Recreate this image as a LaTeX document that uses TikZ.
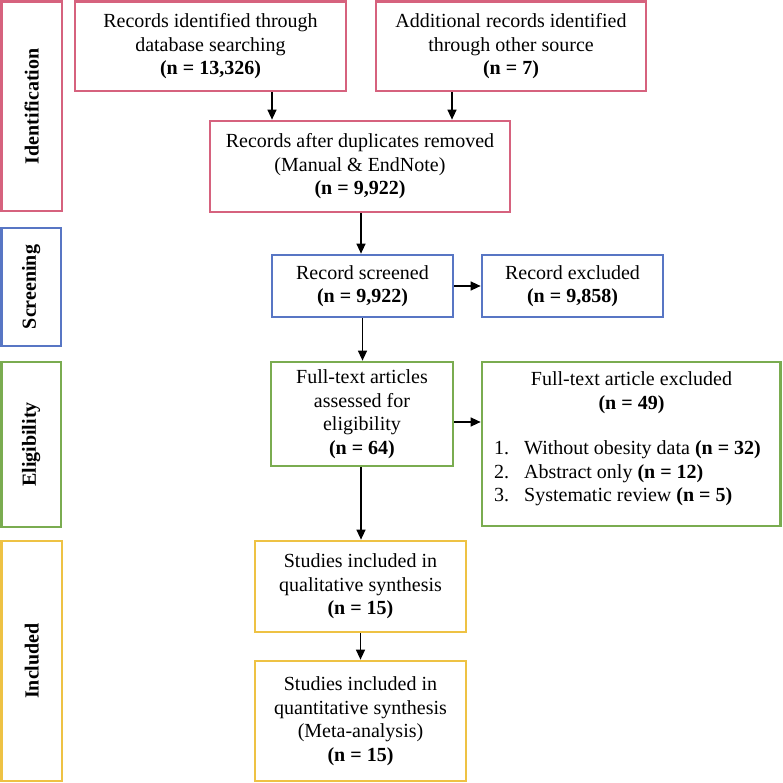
\documentclass[tikz,border=0pt]{standalone}
\usepackage{fontspec}
\setmainfont{Liberation Serif}
\usetikzlibrary{arrows.meta}
\definecolor{cpink}{RGB}{214,98,126}
\definecolor{cblue}{RGB}{88,118,196}
\definecolor{cgreen}{RGB}{122,172,80}
\definecolor{cyel}{RGB}{238,194,68}
\tikzset{
  box/.style={draw, line width=2.7pt, inner sep=0pt, align=center,
    font=\fontsize{20}{23.5}\selectfont},
  stage/.style={box, font=\fontsize{20}{23.5}\selectfont\bfseries},
  txt/.style={inner sep=0pt, align=center, font=\fontsize{20}{23.5}\selectfont},
  arr/.style={line width=1.3pt, -{Triangle[length=10pt,width=9pt]}}
}
\newcommand{\bx}[7]{% name, x1,y1,x2,y2, style, text
  \node[#6, minimum width={(#4-#2)*1pt}, minimum height={(#5-#3)*1pt}]
    (#1) at ({(#2+#4)/2},{(#3+#5)/2}) {#7};}
\begin{document}
\begin{tikzpicture}[x=1pt,y=-1pt]
\useasboundingbox (0,0) rectangle (782,783);
% stage labels
\bx{sid}{1.5}{1.5}{62}{211}{stage, draw=cpink}{}
\node[rotate=90, txt, font=\fontsize{20}{23.5}\selectfont\bfseries] (lid) at (sid) {Identification};
\bx{sscr}{1.5}{228}{61}{346}{stage, draw=cblue}{}
\node[rotate=90, txt, font=\fontsize{20}{23.5}\selectfont\bfseries] (lscr) at (sscr) {Screening};
\bx{seli}{1.5}{362}{61}{527}{stage, draw=cgreen}{}
\node[rotate=90, txt, font=\fontsize{20}{23.5}\selectfont\bfseries] (leli) at (seli) {Eligibility};
\bx{sinc}{1.5}{541}{62}{781}{stage, draw=cyel}{}
\node[rotate=90, txt, font=\fontsize{20}{23.5}\selectfont\bfseries] (linc) at (sinc) {Included};
% boxes
\bx{b1}{75}{1.5}{346}{91}{box, draw=cpink}{Records identified through\\database searching\\\textbf{(n = 13,326)}}
\bx{b2}{376}{1.5}{646}{91}{box, draw=cpink}{Additional records identified\\through other source\\\textbf{(n = 7)}}
\bx{b3}{210}{121}{510}{212}{box, draw=cpink}{Records after duplicates removed\\(Manual \& EndNote)\\\textbf{(n = 9,922)}}
\bx{b4}{272}{255}{453}{317}{box, draw=cblue}{Record screened\\\textbf{(n = 9,922)}}
\bx{b5}{482}{255}{663}{317}{box, draw=cblue}{Record excluded\\\textbf{(n = 9,858)}}
\bx{b6}{271}{362}{453}{466}{box, draw=cgreen}{Full-text articles\\assessed for\\eligibility\\\textbf{(n = 64)}}
\bx{b7}{482}{362}{780.5}{526}{box, draw=cgreen}{}
\node[txt] (t7) at (631.5,392.5) {Full-text article excluded\\\textbf{(n = 49)}};
\node[txt, anchor=west, align=left] (l7) at (494,473.5) {%
  \begin{tabular}{@{}p{30pt}@{}l@{}}
  1. & Without obesity data \textbf{(n = 32)}\\
  2. & Abstract only \textbf{(n = 12)}\\
  3. & Systematic review \textbf{(n = 5)}
  \end{tabular}};
\bx{b8}{255}{541}{466}{632}{box, draw=cyel}{Studies included in\\qualitative synthesis\\\textbf{(n = 15)}}
\bx{b9}{255}{661}{466}{781}{box, draw=cyel}{Studies included in\\quantitative synthesis\\(Meta-analysis)\\\textbf{(n = 15)}}
% arrows
\draw[arr] ([xshift=61.5pt]b1.south) -- ([xshift=61.5pt]b1.south |- b3.north);
\draw[arr] ([xshift=-59pt]b2.south) -- ([xshift=-59pt]b2.south |- b3.north);
\draw[arr] ([xshift=1pt]b3.south) -- ([xshift=1pt]b3.south |- b4.north);
\draw[arr] (b4.east) -- (b4.east -| b5.west);
\draw[arr] (b4.south) -- (b4.south |- b6.north);
\draw[arr] ([yshift=-8pt]b6.east) -- ([yshift=-8pt]b6.east -| b7.west);
\draw[arr] ([xshift=-1pt]b6.south) -- ([xshift=-1pt]b6.south |- b8.north);
\draw[arr] (b8.south) -- (b9.north);
\end{tikzpicture}
\end{document}
